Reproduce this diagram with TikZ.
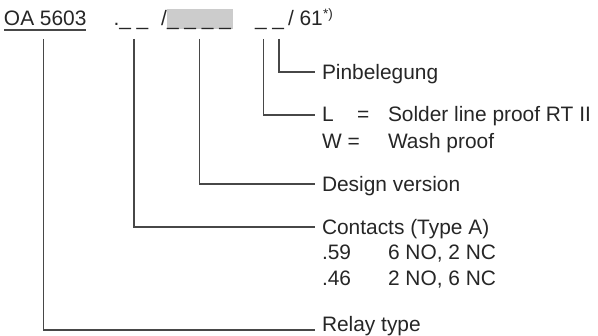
\documentclass[tikz,border=0pt]{standalone}
\usepackage{fontspec}
\setmainfont{Liberation Sans}
\begin{document}
\begin{tikzpicture}[x=1pt,y=-1pt,
  lbl/.style={anchor=base west,inner sep=0pt,outer sep=0pt,text=black!85,font=\fontsize{20.9pt}{25pt}\selectfont},
  sup/.style={anchor=base west,inner sep=0pt,outer sep=0pt,text=black!85,font=\fontsize{13.5pt}{15pt}\selectfont},
  conn/.style={draw=black!72,line width=1.2pt},
  hilite/.style={fill=black!20,draw=none}]
\useasboundingbox (0,0) rectangle (598,336);
% header
\fill[hilite] (167,9) rectangle (232.5,29);
\node[lbl] (oa) at (4,26) {OA 5603};
\draw[conn] ([yshift=-4pt]oa.base west) -- ([yshift=-4pt]oa.base east);
\node[lbl] (cont) at (113.5,26) {.\_ \_};
\node[lbl] (sl1) at (161,26) {/};
\node[lbl] (des) at (167,26) {\_ \_ \_ \_};
\node[lbl] (us) at (255,26) {\_ \_};
\node[lbl] (n61) at (288,26) {/ 61};
\node[sup] (star) at ([xshift=0.3pt,yshift=7pt]n61.base east) {*)};
% coordinates of the pointer lines
\coordinate (t1) at (43.5,39);
\coordinate (t2) at (134,39);
\coordinate (t3) at (199.5,39);
\coordinate (t4) at (263.3,39);
\coordinate (t5) at (279,39);
\coordinate (e5) at (315,72);
\coordinate (e4) at (315,115);
\coordinate (e3) at (315,184);
\coordinate (e2) at (315,227);
\coordinate (e1) at (315,330);
\draw[conn] (t5) |- (e5);
\draw[conn] (t4) |- (e4);
\draw[conn] (t3) |- (e3);
\draw[conn] (t2) |- (e2);
\draw[conn] (t1) |- (e1);
% labels
\node[lbl] (pin) at (322,79.5) {Pinbelegung};
\node[lbl] (L) at (322,122) {L};
\node[lbl] (Leq) at (357,122) {=};
\node[lbl] (Ltx) at (388,122) {Solder line proof RT II};
\node[lbl] (W) at (322,148.5) {W =};
\node[lbl] (Wtx) at (388,148.5) {Wash proof};
\node[lbl] (dv) at (322,191.5) {Design version};
\node[lbl] (ct) at (322,234.5) {Contacts (Type A)};
\node[lbl] (c59) at (322,260) {.59};
\node[lbl] (c59t) at (388,260) {6 NO, 2 NC};
\node[lbl] (c46) at (322,285.5) {.46};
\node[lbl] (c46t) at (388,285.5) {2 NO, 6 NC};
\node[lbl] (rt) at (322,331.5) {Relay type};
\end{tikzpicture}
\end{document}
